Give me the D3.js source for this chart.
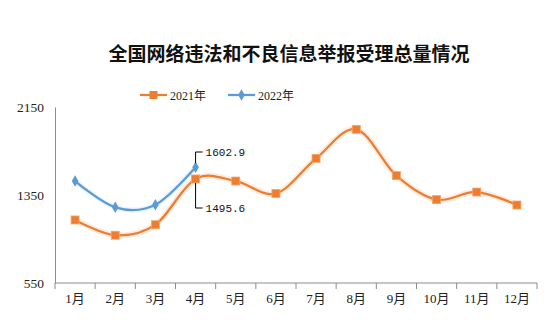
<!DOCTYPE html>
<html>
<head>
<meta charset="utf-8">
<script src="https://cdn.jsdelivr.net/npm/d3@7"></script>
<style>
  html, body { margin: 0; padding: 0; background: #fff; }
  svg { display: block; }
</style>
</head>
<body>
<svg id="chart" width="555" height="334"></svg>
<script>
// Monthly report totals (in 10k items)
const months = ["1月","2月","3月","4月","5月","6月","7月","8月","9月","10月","11月","12月"];
const series2021 = [1123, 984, 1080, 1495.6, 1477, 1364, 1683, 1947, 1526, 1308, 1377, 1259];
const series2022 = [1477, 1238, 1262, 1602.9];
const yTicks = [550, 1350, 2150];
const seriesNames = ["2021年", "2022年"];
const titleText = "全国网络违法和不良信息举报受理总量情况";

const svg = d3.select("#chart");
const margin = { left: 55, right: 18, top: 107, bottom: 51 };
const W = 555, H = 334;

const x = d3.scaleBand().domain(months).range([margin.left, W - margin.right]);
const y = d3.scaleLinear().domain([550, 2150]).range([H - margin.bottom, margin.top]);

const orange = "#ED7D31";
const blue = "#5B9BD5";
const axisColor = "#8c8c8c";

// Title
svg.append("text")
  .attr("x", 289).attr("y", 61)
  .attr("text-anchor", "middle")
  .attr("font-family", "'Noto Sans CJK SC', sans-serif")
  .attr("font-weight", "bold")
  .attr("font-size", 19)
  .attr("fill", "#111")
  .text(titleText);

// Y axis
const yAxis = svg.append("g")
  .attr("transform", `translate(${margin.left},0)`)
  .call(d3.axisLeft(y).tickValues(yTicks).tickFormat(d3.format("d")).tickSize(0).tickPadding(11));
yAxis.select(".domain").attr("stroke", axisColor);
yAxis.selectAll("text")
  .attr("font-family", "'Liberation Serif', serif")
  .attr("font-size", 13.5)
  .attr("fill", "#222");

// X axis with ticks at band edges
const xAxis = svg.append("g")
  .attr("transform", `translate(0,${y(550)})`);
xAxis.append("line")
  .attr("x1", margin.left).attr("x2", W - margin.right)
  .attr("stroke", axisColor);
const edges = months.map(m => x(m)).concat([x(months[months.length - 1]) + x.bandwidth()]);
xAxis.selectAll("line.tick").data(edges).enter().append("line")
  .attr("class", "tick")
  .attr("x1", d => d).attr("x2", d => d)
  .attr("y1", 0).attr("y2", 6)
  .attr("stroke", axisColor);
xAxis.selectAll("text").data(months).enter().append("text")
  .attr("x", d => x(d) + x.bandwidth() / 2)
  .attr("y", 20)
  .attr("text-anchor", "middle")
  .attr("font-family", "'Liberation Serif', 'Noto Sans CJK SC', serif")
  .attr("font-size", 13)
  .attr("fill", "#222")
  .text(d => d);

const cx = (d, i) => x(months[i]) + x.bandwidth() / 2;
const line = d3.line().x(cx).y(d => y(d)).curve(d3.curveCardinal.tension(0));

// Soft glow under lines
svg.append("path").datum(series2021)
  .attr("d", line).attr("fill", "none")
  .attr("stroke", orange).attr("stroke-opacity", 0.15).attr("stroke-width", 6);
svg.append("path").datum(series2022)
  .attr("d", line).attr("fill", "none")
  .attr("stroke", blue).attr("stroke-opacity", 0.12).attr("stroke-width", 5);

// 2021 line + square markers
svg.append("path").datum(series2021)
  .attr("d", line).attr("fill", "none")
  .attr("stroke", orange).attr("stroke-width", 2.25);
svg.selectAll("rect.m21").data(series2021).enter().append("rect")
  .attr("class", "m21")
  .attr("x", (d, i) => cx(d, i) - 4).attr("y", d => y(d) - 4)
  .attr("width", 8).attr("height", 8)
  .attr("fill", orange)
  .attr("stroke", "#f4a36b").attr("stroke-width", 0.8);

// 2022 line + diamond markers
svg.append("path").datum(series2022)
  .attr("d", line).attr("fill", "none")
  .attr("stroke", blue).attr("stroke-width", 2.25);
const diamond = d3.symbol().type(d3.symbolDiamond).size(38);
svg.selectAll("path.m22").data(series2022).enter().append("path")
  .attr("class", "m22")
  .attr("transform", (d, i) => `translate(${cx(d, i)},${y(d)})`)
  .attr("d", diamond)
  .attr("fill", blue);

// Data callouts for April
const aprX = cx(null, 3);
const callouts = [
  { v: series2022[3], ly: 152, from: y(series2022[3]) - 4 },
  { v: series2021[3], ly: 208, from: y(series2021[3]) + 4 }
];
callouts.forEach(c => {
  svg.append("path")
    .attr("d", `M${aprX},${c.from}V${c.ly}H${aprX + 7}`)
    .attr("fill", "none").attr("stroke", "#000").attr("stroke-width", 1);
  svg.append("text")
    .attr("x", aprX + 10).attr("y", c.ly + 4)
    .attr("font-family", "'Liberation Mono', monospace")
    .attr("font-size", 11)
    .attr("fill", "#111")
    .text(c.v.toFixed(1));
});

// Legend
const legend = [
  { name: seriesNames[0], color: orange, x0: 140, shape: "square" },
  { name: seriesNames[1], color: blue, x0: 228, shape: "diamond" }
];
legend.forEach(l => {
  const g = svg.append("g").attr("transform", `translate(${l.x0},95)`);
  g.append("line").attr("x1", 0).attr("x2", 27)
    .attr("stroke", l.color).attr("stroke-width", 2.25);
  if (l.shape === "square") {
    g.append("rect").attr("x", 9.5).attr("y", -4).attr("width", 8).attr("height", 8)
      .attr("fill", l.color);
  } else {
    g.append("path").attr("transform", "translate(13.5,0)")
      .attr("d", diamond).attr("fill", l.color);
  }
  g.append("text").attr("x", 30).attr("y", 4.5)
    .attr("font-family", "'Liberation Serif', 'Noto Sans CJK SC', serif")
    .attr("font-size", 12)
    .attr("fill", "#222")
    .text(l.name);
});
</script>
</body>
</html>
